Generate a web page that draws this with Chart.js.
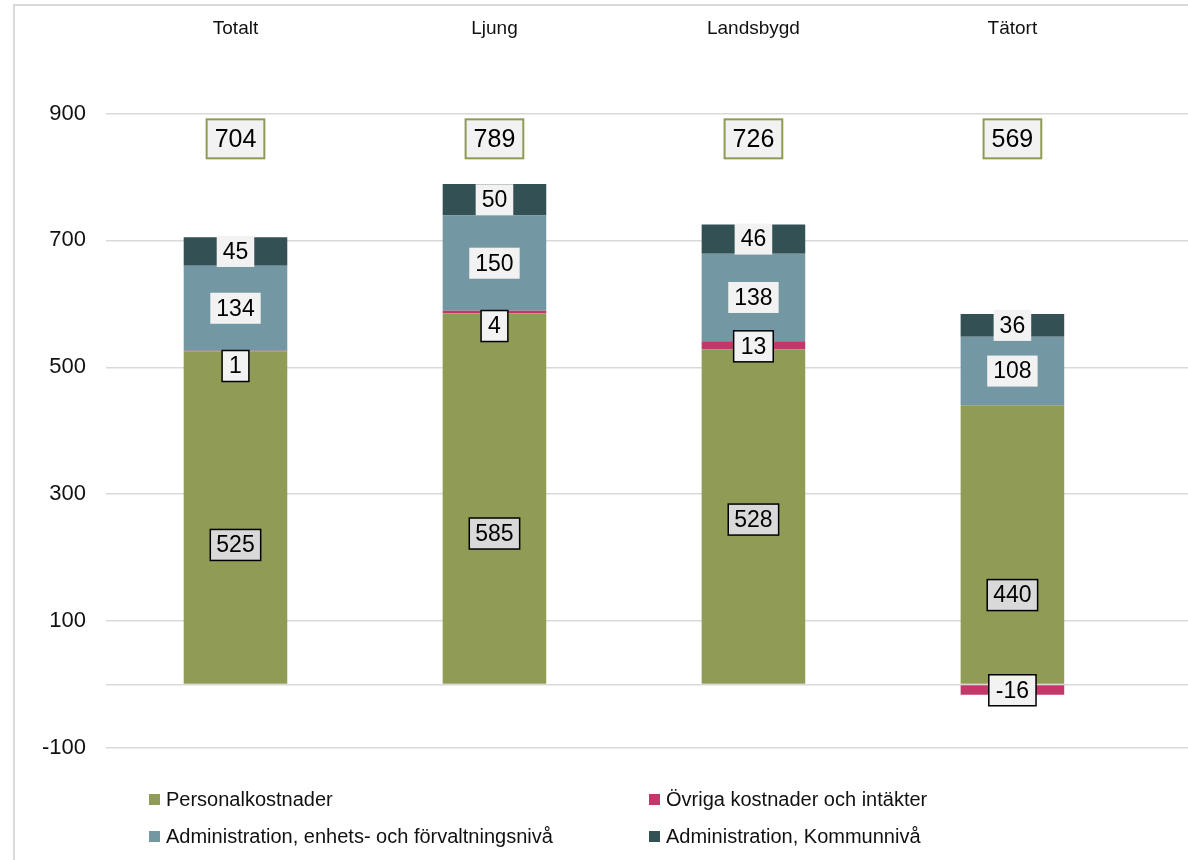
<!DOCTYPE html>
<html>
<head>
<meta charset="utf-8">
<script src="https://cdn.jsdelivr.net/npm/chart.js@4.4.1/dist/chart.umd.min.js"></script>
<style>
  body { margin: 0; background: #fff; }
  #wrap { position: relative; width: 1188px; height: 860px; overflow: hidden; }
  #frame { position: absolute; left: 13px; top: 4px; width: 2000px; height: 2000px;
           border-left: 2px solid #d9d9d9; border-top: 2px solid #d9d9d9; }
  canvas { position: absolute; left: 0; top: 0; }
  #legend { position: absolute; left: 149px; top: 781px; display: grid;
            grid-template-columns: 500px 500px; grid-auto-rows: 37px;
            font-family: 'Liberation Sans', Arial, sans-serif; font-size: 20px; color: #111; }
  #legend div { display: flex; align-items: center; }
  #legend span { display: inline-block; width: 11px; height: 11px; margin-right: 6px; }
</style>
</head>
<body>
<div id="wrap">
  <div id="frame"></div>
  <canvas id="chart" width="1188" height="860"></canvas>
  <div id="legend"></div>
</div>
<script>
const categories = ['Totalt', 'Ljung', 'Landsbygd', 'Tätort'];
const personal = [525, 585, 528, 440];
const ovriga = [1, 4, 13, -16];
const adminEnhet = [134, 150, 138, 108];
const adminKommun = [45, 50, 46, 36];
const totals = [704, 789, 726, 569];
const yTicks = [-100, 0, 100, 300, 500, 700, 900];

// var etiketterna sitter (i y-värden), där de inte ligger mitt i stapeln
const personalLabelAt = [220, 238, 260, 141];
const ovrigaLabelAt = [502, 565, 533, -9];
const totalLabelAt = 860;

const FONT = "'Liberation Sans', Arial, sans-serif";

function pts(arr) {
  return arr.map((v, i) => ({ x: i, y: v }));
}

function drawBox(ctx, text, x, y, st) {
  ctx.save();
  ctx.font = st.size + 'px ' + FONT;
  const w = ctx.measureText(text).width + 2 * st.padX;
  const h = st.size + 2 * st.padY;
  ctx.fillStyle = st.fill;
  ctx.fillRect(x - w / 2, y - h / 2, w, h);
  if (st.border) {
    ctx.strokeStyle = st.border;
    ctx.lineWidth = st.borderWidth;
    ctx.strokeRect(x - w / 2, y - h / 2, w, h);
  }
  ctx.fillStyle = '#000';
  ctx.textAlign = 'center';
  ctx.textBaseline = 'middle';
  ctx.fillText(text, x, y + 1);
  ctx.restore();
}

const totalBox = { size: 25, padX: 8, padY: 7, fill: '#f2f2f2', border: '#8f9a55', borderWidth: 2 };

const labelPlugin = {
  id: 'segmentLabels',
  afterDatasetsDraw(chart) {
    const ctx = chart.ctx;
    const yScale = chart.scales.y;
    chart.data.datasets.forEach((ds, di) => {
      const meta = chart.getDatasetMeta(di);
      meta.data.forEach((bar, i) => {
        let cy = (bar.y + bar.base) / 2;
        if (ds.labelAt) cy = yScale.getPixelForValue(ds.labelAt[i]);
        drawBox(ctx, String(ds.values[i]), bar.x, cy, ds.box);
      });
    });
    chart.getDatasetMeta(0).data.forEach((bar, i) => {
      drawBox(ctx, String(totals[i]), bar.x, yScale.getPixelForValue(totalLabelAt), totalBox);
    });
  }
};

const datasets = [
  { label: 'Personalkostnader', values: personal, data: pts(personal), backgroundColor: '#909b55',
    labelAt: personalLabelAt,
    box: { size: 23, padX: 6, padY: 4, fill: '#d9d9d9', border: '#000', borderWidth: 1.5 } },
  { label: 'Övriga kostnader och intäkter', values: ovriga, data: pts(ovriga), backgroundColor: '#c2386a',
    labelAt: ovrigaLabelAt,
    box: { size: 23, padX: 7, padY: 4, fill: '#f2f2f2', border: '#000', borderWidth: 1.5 } },
  { label: 'Administration, enhets- och förvaltningsnivå', values: adminEnhet, data: pts(adminEnhet), backgroundColor: '#7398a3',
    box: { size: 23, padX: 6, padY: 4, fill: '#f2f2f2' } },
  { label: 'Administration, Kommunnivå', values: adminKommun, data: pts(adminKommun), backgroundColor: '#335155',
    box: { size: 23, padX: 6, padY: 4, fill: '#f2f2f2' } }
];

const chart = new Chart(document.getElementById('chart').getContext('2d'), {
  type: 'bar',
  data: { datasets: datasets },
  options: {
    responsive: false,
    animation: false,
    categoryPercentage: 0.5,
    barPercentage: 0.8,
    layout: { padding: { left: 0, right: 0, top: 0, bottom: 112 } },
    plugins: {
      legend: { display: false },
      tooltip: { enabled: false }
    },
    scales: {
      x: {
        type: 'linear',
        position: 'top',
        stacked: true,
        offset: false,
        min: -0.5,
        max: 3.678,
        grid: { display: false },
        border: { display: false },
        afterFit: (s) => { s.height = 50; },
        afterBuildTicks: (s) => { s.ticks = categories.map((c, i) => ({ value: i })); },
        ticks: {
          padding: 2,
          color: '#111',
          font: { family: FONT, size: 19 },
          callback: (v) => categories[v]
        }
      },
      y: {
        stacked: true,
        min: -100,
        max: 1000,
        grid: { color: '#d9d9d9', lineWidth: 1.5, drawTicks: false },
        border: { display: false },
        afterFit: (s) => { s.width = 106; },
        afterBuildTicks: (s) => { s.ticks = yTicks.map(v => ({ value: v })); },
        ticks: {
          padding: 20,
          color: '#111',
          font: { family: FONT, size: 22 },
          callback: (v) => (v === 0 ? '' : v)
        }
      }
    }
  },
  plugins: [labelPlugin]
});

// förklaring i två kolumner
const legend = document.getElementById('legend');
datasets.forEach(ds => {
  const item = document.createElement('div');
  item.innerHTML = '<span style="background:' + ds.backgroundColor + '"></span>' + ds.label;
  legend.appendChild(item);
});
</script>
</body>
</html>
